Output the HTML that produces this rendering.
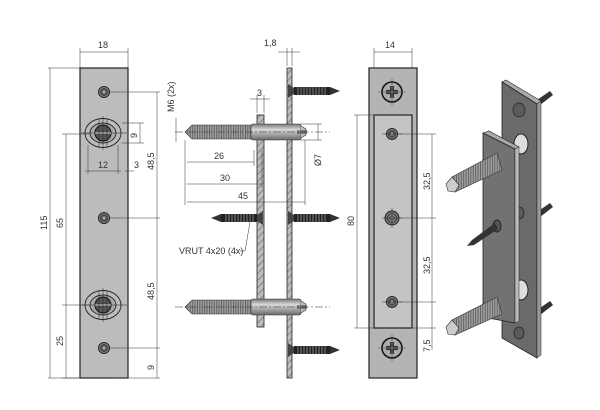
<!DOCTYPE html>
<html><head><style>
html,body{margin:0;padding:0;background:#fff;width:600px;height:410px;overflow:hidden}
svg{display:block}
text{font-family:"Liberation Sans",sans-serif;font-size:9px;fill:#333}
</style></head><body>
<svg width="600" height="410" viewBox="0 0 600 410" xmlns="http://www.w3.org/2000/svg">
<defs>
<pattern id="thr" width="2.4" height="10" patternUnits="userSpaceOnUse">
<rect width="2.4" height="10" fill="#a0a0a0"/><rect width="0.8" height="10" fill="#555"/>
</pattern>
<pattern id="hatch" width="5" height="5" patternUnits="userSpaceOnUse" patternTransform="rotate(45)">
<rect width="5" height="5" fill="#bdbdbd"/><rect width="0.8" height="5" fill="#777"/>
</pattern>
<linearGradient id="cyl" x1="0" y1="0" x2="0" y2="1">
<stop offset="0" stop-color="#777"/><stop offset="0.35" stop-color="#d8d8d8"/><stop offset="1" stop-color="#6a6a6a"/>
</linearGradient>
<g id="wscrewR">
<path d="M0,-7 L6,-3 L6,3 L0,7Z" fill="#444"/>
<rect x="6" y="-4" width="36" height="8" fill="#222"/>
<g stroke="#bbb" stroke-width="0.6"><path d="M10,-4v8M13,-4v8M16,-4v8M19,-4v8M22,-4v8M25,-4v8M28,-4v8M31,-4v8M34,-4v8M37,-4v8"/></g>
<path d="M42,-4 L52,0 L42,4Z" fill="#333"/>
</g>
<g id="smhole"><circle r="5.5" fill="#888" stroke="#222" stroke-width="1"/><circle r="3.5" fill="#555" stroke="#222" stroke-width="0.6"/><circle r="1.5" fill="#aaa"/></g>
<g id="oval">
<ellipse rx="18" ry="14.5" fill="none" stroke="#222" stroke-width="0.9"/>
<ellipse rx="13" ry="10" fill="#aaa" stroke="#222" stroke-width="0.9"/>
<circle r="8" fill="#555" stroke="#111"/>
<rect x="-8" y="-1.5" width="16" height="3" fill="#bbb" stroke="#111" stroke-width="0.5"/>
<path d="M-22,0H24M0,-17V17M-4,-14V14M4,-14V14" stroke="#222" stroke-width="0.5" fill="none"/>
</g>
<g id="phil"><circle r="10" fill="#aaa" stroke="#111" stroke-width="1.5"/><path d="M-6,0H6M0,-6V6" stroke="#111" stroke-width="3.5"/><path d="M-6,0H6M0,-6V6" stroke="#ccc" stroke-width="1"/><path d="M-14,0H14M0,-14V14" stroke="#333" stroke-width="0.4"/></g>
<g id="bolt">
<path d="M0,0 L7,-7 L68,-7 L68,7 L7,7Z" fill="url(#thr)" stroke="#333" stroke-width="0.6"/>
<rect x="66" y="-8" width="50" height="16" rx="2" fill="url(#cyl)" stroke="#333" stroke-width="0.6"/>
<path d="M116,-6 L121,-3 L121,3 L116,6" fill="#bbb" stroke="#333" stroke-width="0.6"/>
<path d="M112,-1H122M112,1H122" stroke="#222" stroke-width="0.7"/>
</g>
</defs>

<!-- View 1 -->
<rect x="80" y="68" width="48" height="310" fill="#bcbcbc" stroke="#222" stroke-width="1.2"/>
<use href="#smhole" x="104" y="92"/><use href="#smhole" x="104" y="218"/><use href="#smhole" x="104" y="348"/>
<use href="#oval" x="103" y="133"/><use href="#oval" x="103" y="305"/>
<g stroke="#333" stroke-width="0.5" fill="none">
<path d="M80,68V48M128,68V48M80,52H128"/>
<path d="M48,68H80M48,378H80M50,68V378"/>
<path d="M62,134H90M62,305H90M66,134V378M62,378H80"/>
<path d="M110,92H160M110,218H160M110,348H160M110,378H160M157,92V378"/>
<path d="M122,123H144M122,143H144M140,123V143"/>
<path d="M88,145V174M118,145V174M128,165V174M85,171H121M125,171H134"/>
<path d="M176,118V142"/>
</g>
<text x="98" y="48">18</text>
<text transform="translate(47,230) rotate(-90)">115</text>
<text transform="translate(63,228) rotate(-90)">65</text>
<text transform="translate(63,346) rotate(-90)">25</text>
<text transform="translate(154,170) rotate(-90)">48,5</text>
<text transform="translate(154,300) rotate(-90)">48,5</text>
<text transform="translate(154,370) rotate(-90)">9</text>
<text transform="translate(137,138) rotate(-90)">9</text>
<text x="98" y="168">12</text>
<text x="134" y="168">3</text>
<text transform="translate(174,112) rotate(-90)">M6 (2x)</text>

<!-- View 2 -->
<rect x="287" y="68" width="5" height="310" fill="url(#hatch)" stroke="#222" stroke-width="0.8"/>
<rect x="257" y="115" width="7" height="212" fill="url(#hatch)" stroke="#222" stroke-width="0.8"/>
<use href="#bolt" x="185" y="132"/><use href="#bolt" x="185" y="307"/>
<use href="#wscrewR" x="288" y="91"/><use href="#wscrewR" x="288" y="218"/><use href="#wscrewR" x="288" y="350"/>
<use href="#wscrewR" transform="translate(263,218) scale(-1,1)"/>
<g stroke="#333" stroke-width="0.5" fill="none">
<path d="M287,66V48M292,66V48M278,52H300"/>
<path d="M257,113V95M264,113V95M250,99H270"/>
<path d="M185,140V205M254,150V166M262,150V188M305,140V205M187,162H254M187,184H262M187,202H305"/>
<path d="M300,124H322M300,140H322M318,124V140"/>
<path d="M175,132H330M175,307H330" stroke-dasharray="8,2,2,2"/>
<path d="M240,251H245L250,222"/>
</g>
<text x="264" y="46">1,8</text>
<text x="257" y="96">3</text>
<text x="214" y="159">26</text>
<text x="220" y="181">30</text>
<text x="238" y="199">45</text>
<text transform="translate(321,166) rotate(-90)">Ø7</text>
<text x="179" y="254">VRUT 4x20 (4x)</text>

<!-- View 3 -->
<rect x="369" y="68" width="48" height="310" fill="#b4b4b4" stroke="#222" stroke-width="1.2"/>
<rect x="374" y="115" width="38" height="213" fill="#c4c4c4" stroke="#222" stroke-width="1.2"/>
<use href="#phil" x="392" y="92"/><use href="#phil" x="392" y="348"/>
<use href="#smhole" x="392" y="134"/><use href="#smhole" x="392" y="302"/>
<circle cx="392" cy="218" r="7" fill="#777" stroke="#222"/><circle cx="392" cy="218" r="4.5" fill="none" stroke="#222" stroke-width="0.6"/><circle cx="392" cy="218" r="2" fill="#aaa" stroke="#222" stroke-width="0.5"/>
<g stroke="#333" stroke-width="0.5" fill="none">
<path d="M374,68V48M412,68V48M374,52H412"/>
<path d="M354,115H374M354,328H374M357,115V328"/>
<path d="M385,134H436M384,218H436M385,302H436M412,328H436M432,134V350"/>
<path d="M382,218H402M392,208V228M382,134H402M382,302H402"/>
</g>
<text x="385" y="48">14</text>
<text transform="translate(354,226) rotate(-90)">80</text>
<text transform="translate(430,190) rotate(-90)">32,5</text>
<text transform="translate(430,274) rotate(-90)">32,5</text>
<text transform="translate(430,352) rotate(-90)">7,5</text>

<!-- View 4 (3D) -->
<g fill="#333"><path d="M537,100 L550,91 L553,95 L540,105Z"/><path d="M537,212 L550,203 L553,207 L540,217Z"/><path d="M537,310 L550,301 L553,305 L540,315Z"/></g>
<polygon points="502,82 506,80 541,101 537,104" fill="#aaa" stroke="#222" stroke-width="0.6"/>
<polygon points="502,82 537,104 537,358 502,338" fill="#6a6a6a" stroke="#222" stroke-width="0.8"/>
<polygon points="537,104 541,101 541,355 537,358" fill="#999" stroke="#222" stroke-width="0.5"/>
<ellipse cx="519" cy="110" rx="6" ry="7" fill="#5a5a5a" stroke="#222" stroke-width="0.7"/>
<ellipse cx="519" cy="213" rx="5" ry="6" fill="#5a5a5a" stroke="#222" stroke-width="0.7"/>
<ellipse cx="519" cy="333" rx="5" ry="6" fill="#5a5a5a" stroke="#222" stroke-width="0.7"/>
<ellipse cx="521" cy="144" rx="7" ry="10" fill="#ddd" stroke="#222"/>
<ellipse cx="521" cy="290" rx="7" ry="10" fill="#ddd" stroke="#222"/>
<polygon points="483,133 489,131 519,147 515,149" fill="#aaa" stroke="#222" stroke-width="0.6"/>
<polygon points="483,133 515,149 515,323 483,317" fill="#727272" stroke="#222" stroke-width="0.8"/>
<polygon points="515,149 519,147 519,321 515,323" fill="#bbb" stroke="#222" stroke-width="0.5"/>
<path d="M497,153 L452,177 L449,188 L455,192 L502,170Z" fill="url(#thr)" stroke="#333" stroke-width="0.6"/>
<path d="M452,177 L446,184 L448,191 L455,192 L459,185Z" fill="#ccc" stroke="#333" stroke-width="0.6"/>
<path d="M497,297 L452,320 L449,331 L455,335 L502,314Z" fill="url(#thr)" stroke="#333" stroke-width="0.6"/>
<path d="M452,320 L446,327 L448,334 L455,335 L459,328Z" fill="#ccc" stroke="#333" stroke-width="0.6"/>
<ellipse cx="497" cy="226" rx="4" ry="6" fill="#555" stroke="#222"/>
<path d="M495,223 L472,240 L467,246 L474,245 L498,229Z" fill="#333"/>
</svg>
</body></html>
